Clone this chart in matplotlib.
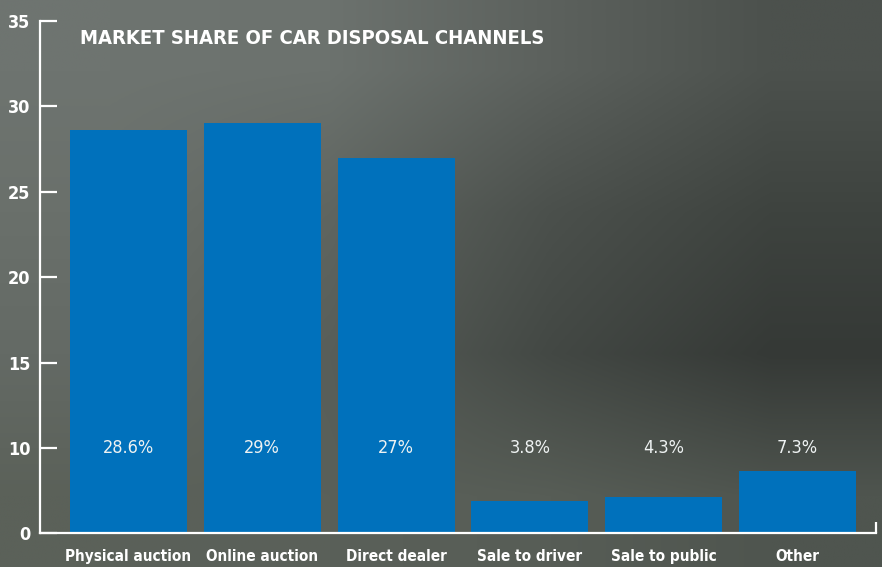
import numpy as np
import matplotlib
matplotlib.use('Agg')
import matplotlib.pyplot as plt

# Data ----------------------------------------------------------------------

channels = ['Physical auction', 'Online auction', 'Direct dealer',
            'Sale to driver', 'Sale to public', 'Other']
share = [28.6, 29, 27, 3.8, 4.3, 7.3]
share_labels = ['28.6%', '29%', '27%', '3.8%', '4.3%', '7.3%']
y_ticks = [0, 10, 15, 20, 25, 30, 35]

# Styling ------------------------------------------------------------------

plt.rcParams['font.family'] = ['DejaVu Sans']
plt.rcParams['font.stretch'] = 'condensed'
bar_color = '#0071bc'
white = '#ffffff'

fig = plt.figure(figsize=(8.82, 5.67), dpi=100)

# Background: dark concrete-like grey gradient
bg_rows = [
    ['#6e7470', '#6c726e', '#5c615d', '#4c514d'],
    ['#6a706b', '#5f6560', '#4b504c', '#3e433f'],
    ['#646a65', '#585e59', '#434844', '#353936'],
    ['#5b6159', '#5a6059', '#575d56', '#4f554f'],
]
bg = np.array([[matplotlib.colors.to_rgb(c) for c in row] for row in bg_rows])
bg_ax = fig.add_axes([0, 0, 1, 1])
bg_ax.imshow(bg, aspect='auto', interpolation='bilinear', extent=[0, 1, 0, 1])
bg_ax.set_axis_off()

ax = fig.add_axes([40 / 882, 33.7 / 567, 836 / 882, 512.3 / 567])
ax.patch.set_alpha(0)

# The 0-10 band takes one tick step, same as each 5-step above it
def fwd(y):
    y = np.asarray(y, dtype=float)
    return np.where(y < 10, y / 2, y - 5)

def inv(t):
    t = np.asarray(t, dtype=float)
    return np.where(t < 5, t * 2, t + 5)

ax.set_yscale('function', functions=(fwd, inv))

x = np.arange(len(channels))
ax.bar(x, share, width=0.874, color=bar_color, zorder=2)

for xi, lab in zip(x, share_labels):
    ax.text(xi, 10, lab, ha='center', va='center', color='#eef2f2',
            fontsize=13, zorder=3)

ax.set_xlim(-0.661, 5.587)
ax.set_ylim(0, 35)
ax.set_yticks(y_ticks)
ax.set_yticklabels([str(t) for t in y_ticks])
ax.minorticks_off()
ax.set_xticks(x)
ax.set_xticklabels(channels)

for side in ['top', 'right']:
    ax.spines[side].set_visible(False)
for side in ['left', 'bottom']:
    ax.spines[side].set_color(white)
    ax.spines[side].set_linewidth(1.6)

ax.tick_params(axis='y', direction='in', length=12.5, width=1.6,
               color=white, labelcolor=white, labelsize=13, pad=7)
ax.tick_params(axis='x', length=0, labelcolor=white, labelsize=11, pad=11)
for lab in ax.get_yticklabels() + ax.get_xticklabels():
    lab.set_fontweight('bold')

# small upturn at the right end of the baseline
ax.plot([1, 1], [0, 0.0215], transform=ax.transAxes, color=white,
        linewidth=1.6, clip_on=False, solid_capstyle='butt')

fig.text(80 / 882, 1 - 38 / 567, 'MARKET SHARE OF CAR DISPOSAL CHANNELS',
         color=white, fontsize=14.5, fontweight='bold', va='center', ha='left')

fig.savefig('out.png', dpi=100)
